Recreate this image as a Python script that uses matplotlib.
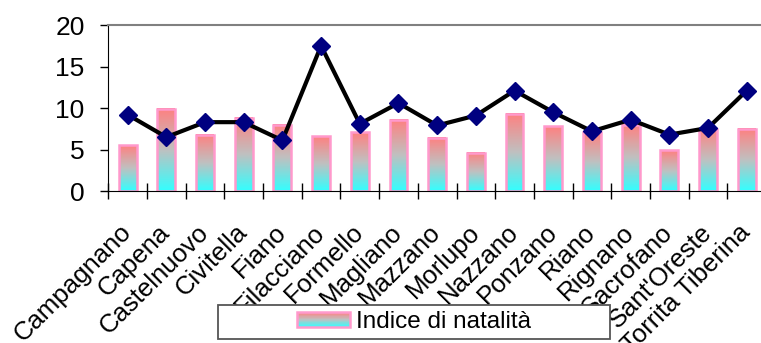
import numpy as np
import matplotlib
matplotlib.use('Agg')
import matplotlib.pyplot as plt
from matplotlib.colors import LinearSegmentedColormap
from matplotlib.patches import Rectangle
from matplotlib.legend_handler import HandlerBase

plt.rcParams['font.family'] = ['Liberation Sans', 'DejaVu Sans']

comuni = ['Campagnano', 'Capena', 'Castelnuovo', 'Civitella', 'Fiano', 'Filacciano',
          'Formello', 'Magliano', 'Mazzano', 'Morlupo', 'Nazzano', 'Ponzano', 'Riano',
          'Rignano', 'Sacrofano', "Sant'Oreste", 'Torrita Tiberina']
natalita = [5.5, 9.9, 6.8, 8.8, 8.0, 6.6, 7.1, 8.6, 6.4, 4.6, 9.3, 7.8, 7.1, 8.0, 4.9, 7.5, 7.5]
linea = [9.2, 6.5, 8.3, 8.3, 6.1, 17.5, 8.1, 10.6, 7.9, 9.1, 12.1, 9.5, 7.2, 8.6, 6.8, 7.6, 12.1]
yticks = [0, 5, 10, 15, 20]

grad_cmap = LinearSegmentedColormap.from_list('nat', ['#33FFFF', '#C0C0C0', '#FF8080'])
edge_pink = '#FF99CC'


class GradientHandler(HandlerBase):
    # legend swatch made of thin stripes so it shows the same gradient as the bars
    def create_artists(self, legend, orig_handle, xdescent, ydescent, width, height, fontsize, trans):
        n = 24
        arts = []
        for k in range(n):
            arts.append(Rectangle((-xdescent, -ydescent + height * k / n), width, height / n + 0.3,
                                  facecolor=grad_cmap((k + 0.5) / n), lw=0, transform=trans))
        arts.append(Rectangle((-xdescent, -ydescent), width, height, facecolor='none',
                              edgecolor=edge_pink, lw=1.8, transform=trans))
        return arts


fig = plt.figure(figsize=(7.61, 3.43), dpi=100)
ax = fig.add_axes([0.1423, 0.443, 0.8643, 0.484])

x = np.arange(len(comuni))
w = 0.46
grad = np.linspace(0, 1, 256).reshape(-1, 1)
for xi, v in zip(x, natalita):
    ax.imshow(grad, extent=(xi - w / 2, xi + w / 2, 0, v), origin='lower', aspect='auto',
              cmap=grad_cmap, zorder=1, interpolation='bilinear')
ax.bar(x, natalita, width=w, facecolor='none', edgecolor=edge_pink, linewidth=1.8, zorder=2)
ax.plot(x, linea, color='black', lw=3, marker='D', ms=9, mfc='#000080', mec='#000080', zorder=3)

ax.set_xlim(-0.5, len(comuni) - 0.5)
ax.set_ylim(0, 20)
ax.set_yticks(yticks)
ax.tick_params(axis='y', direction='out', length=6, width=1, pad=11, labelsize=19)

ax.set_xticks(x)
ax.set_xticklabels(comuni, rotation=45, ha='right', va='center', rotation_mode='anchor', fontsize=18.5)
ax.tick_params(axis='x', which='major', length=0, pad=27)
ax.set_xticks(np.arange(len(comuni) + 1) - 0.5, minor=True)
ax.tick_params(axis='x', which='minor', direction='inout', length=11.5, width=1)

ax.spines['top'].set_color('#808080')
ax.spines['top'].set_linewidth(1.5)
ax.spines['right'].set_color('#808080')
ax.spines['left'].set_color('black')
ax.spines['bottom'].set_color('black')

# legend frame drawn separately so the entry sits centred in a wide box
fig.patches.append(Rectangle((0.2865, 0.0117), 0.515, 0.0991, transform=fig.transFigure,
                             facecolor='white', edgecolor='#555555', lw=1.3, zorder=5))
proxy = Rectangle((0, 0), 1, 1)
fig.legend([proxy], ['Indice di natalità'], handler_map={Rectangle: GradientHandler()},
           loc='center', bbox_to_anchor=(0.544, 0.0612), frameon=False, fontsize=17.5,
           handlelength=2.2, handleheight=0.55, handletextpad=0.25)

fig.savefig('out.png', dpi=100)
